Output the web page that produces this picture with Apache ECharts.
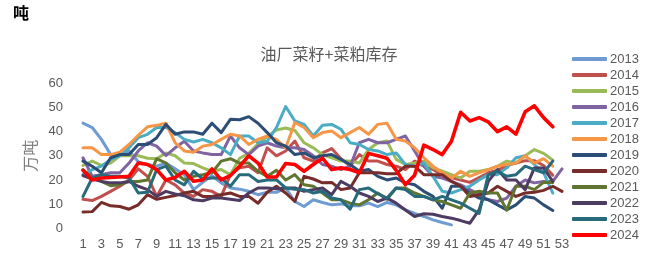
<!DOCTYPE html>
<html><head><meta charset="utf-8">
<script src="https://cdn.jsdelivr.net/npm/echarts@6/dist/echarts.min.js"></script>
<style>html,body{margin:0;padding:0;background:#fff}#c{width:668px;height:268px}</style>
</head><body><div id="c"></div>
<script>
var weeks = ['1','2','3','4','5','6','7','8','9','10','11','12','13','14','15','16','17','18','19','20','21','22','23','24','25','26','27','28','29','30','31','32','33','34','35','36','37','38','39','40','41','42','43','44','45','46','47','48','49','50','51','52','53'];
var years = ['2013','2014','2015','2016','2017','2018','2019','2020','2021','2022','2023','2024'];
var s2013 = [43.5,41.7,36.8,30.5,30.1,32,27.5,26.4,25.7,27,24.6,22.2,16,19,21.8,18.8,16.7,16.2,15.3,13.9,14.9,14.9,16.7,11.1,9,11.8,10.7,9.7,10.1,9.3,9.3,10.4,9,10.7,9.7,7.6,6.2,4.9,3.5,2.4,1.4];
var s2014 = [12,11.5,13.2,15.3,17.4,20,24.6,21.5,13.2,20,18,14.6,13.2,16,15.3,13.2,22.2,25,25.7,23,33.3,30,32,36.1,29.2,27.8,31.2,33,28.8,25.7,30.5,27.8,27.8,26.4,25.7,24.3,27.8,25.7,24.3,22,21,20,19,21,23,24,26,27,28,28,26,22];
var s2015 = [26,27.8,26,27,30,30,30,29,28.8,31.2,30,27,26.8,25,23.6,24.3,22.2,29,31,35,38,40.7,41.5,40.5,35.4,33.3,30.5,29.2,27.8,27.8,27,32.6,35.4,36.1,28.5,26.4,27,27.8,25,23.6,22.2,20.8,23.6,23.6,24.3,25.7,27.8,27,30,32.6,31,28.2];
var s2016 = [29.2,21.5,22.2,23,23,27,32,35.4,34,30.1,33.3,36,32,31.2,30.5,30.5,38.2,33.3,30.5,34,35.4,34,33.3,33.3,32.6,30,26.4,25.7,24.3,25.7,35.4,36.8,35.4,35.4,36.8,38.2,32,25.7,21.5,20.8,19.4,18,16,13.9,11.8,11.1,12.5,17.4,20,18.8,19.4,19.4,24.6];
var s2017 = [22.2,24.3,25.7,28.5,30,33.3,37.5,38.9,41.7,41.7,39.6,36.8,35.7,36.8,35.4,33.3,30.5,38.2,38.2,35.4,36,41.7,50.4,44.4,43,38.2,42.6,43,41,35.4,34.7,32.6,32,30.5,31.2,26.4,25.7,27,21.5,15.3,14.6,16,17.4,20,22.2,22.2,25,29.2,30,26.4,23,14.6];
var s2018 = [33.3,33.3,30.5,30.5,31.5,34.7,38.5,42,42.6,43.5,35.4,32,31.5,34,34.7,36.8,38.9,38.2,34.7,36.8,38.2,36.8,33.3,43.8,41.7,37.5,39.6,40.3,37.5,39.6,41.7,38.9,43,43.5,36.8,36.1,33.3,29.2,25.7,23,20.8,23.6,21.5,23,24.3,25.7,26.4,27,30,27,28.8,25.7];
var s2019 = [27.8,25.7,23,29.2,30.5,30.5,34.7,34.7,37.5,43,38.9,39.9,39.9,38.9,43.5,39.6,45.1,44.9,46.2,43.5,39.6,35.4,34,30.5,31.2,29.2,30,30.5,28.5,26.4,23.6,24.3,21.5,20,20.8,18.8,18,15.3,13.2,8.3,17.4,17.4,14.6,12.5,11.8,9.7,7.6,9.7,13.2,12.5,9.7,7.4];
var s2020 = [6.7,6.9,10.7,9.3,9,7.9,9.7,13.9,12,12.8,13.6,14.6,15.3,13.2,13.2,13.9,14.6,13.2,13.2,10.4,14.9,17.4,14.6,11.1,21.5,20.4,18.8,19,16,16.7,23,23,23,22.6,22.6,25.7,25.7,22.2,22.2,22.2,19.4,17.4,13.2,13.9,14.6,17.4,15.3,13.2,14.6,14.9,15.7,17.4,15.3];
var s2021 = [24.3,20.8,19.4,17.6,18,19.4,19.4,20,28.8,27,23,20,21.5,22.2,23,27.8,28.8,27,27,23.6,21.5,24,20,22.2,18,17.4,14.6,11.8,11.8,10.4,9.7,11.8,14.6,12,16.7,16.7,14.6,13.2,11.8,11.1,9.7,8.3,14.6,15.3,14.6,14.6,7.6,17.4,17.4,16,19,19];
var s2022 = [21.8,20.4,19.4,18.8,18.8,19.4,17.4,16,13.2,15.3,14.2,13.5,11.8,11.4,12.5,12.5,12,11.5,14.6,16.7,16.7,16.4,16.7,16.7,15.3,16,16.7,13.9,19.4,17.4,14.6,13.2,11.1,12.5,10.4,7.6,4.9,6,5.8,4.9,4.2,3.2,2.1,7.6,19.4,24.3,20,20,16,25,25,19.4];
var s2023 = [13.2,20.8,22.2,21.5,21.5,20.8,14.6,14.9,24.3,25.7,20,18,23.6,20.4,20.8,20.8,17.4,22.2,22.2,19.4,20,20,16.7,16.2,16,14.6,15.3,12.5,11.8,7.9,16,16.7,14.3,12.5,16.7,16,13.2,13.2,11.8,13.2,11.8,10.4,8.3,6.2,22.2,23.6,21.5,22.2,25.7,24.3,23,27.8];
var s2024 = [24,20,20.8,21,21.2,21.5,27,26.4,24.3,20,21,23.6,19.5,20,24.6,20,21.8,25.7,30,27,21.2,21.2,26.8,26.4,23.6,26.4,29,24.3,25,24.3,23,31,30,29,24,18,22,34.4,32.6,30.5,36,48,44.4,45.8,44,40,42,39,48.2,50.7,45.8,42];
var yTicks = [0,10,20,30,40,50,60];

var seriesData = [s2013,s2014,s2015,s2016,s2017,s2018,s2019,s2020,s2021,s2022,s2023,s2024];
var colors = ['#6E9BD1','#C0504D','#9BBB59','#8064A2','#4BACC6','#F79646','#2C4D75','#772C2A','#5F7530','#4D3B62','#276A7C','#FF0000'];
var chart = echarts.init(document.getElementById('c'), null, {renderer:'canvas'});
var series = years.map(function(y,i){
  return {name:y,type:'line',data:seriesData[i],showSymbol:false,symbol:'none',smooth:false,
    lineStyle:{color:colors[i],width:(i===11?3.6:3),cap:'round',join:'round'},itemStyle:{color:colors[i]},
    emphasis:{disabled:true},silent:true};
});
var font = '"Liberation Sans", Arial, sans-serif';
chart.setOption({
  animation:false,
  color:colors,
  grid:{left:83,right:106,top:83.3,bottom:39.7,containLabel:false},
  graphic:[
    {type:'text',left:13,top:5,style:{text:'吨',font:'bold 16px "Noto Sans CJK SC", sans-serif',fill:'#000'}},
    {type:'text',x:329,y:54,style:{text:'油厂菜籽+菜粕库存',font:'16px "Noto Sans CJK SC", sans-serif',fill:'#595959',align:'center',verticalAlign:'middle'}}
  ],
  legend:{orient:'vertical',left:567,top:46,itemWidth:35,itemHeight:4,itemGap:0,icon:'roundRect',
    data:years,selectedMode:false,
    textStyle:{color:'#595959',fontSize:13,fontFamily:font,lineHeight:16,padding:[0,0,0,-2]}},
  xAxis:{type:'category',data:weeks,boundaryGap:false,
    axisLine:{show:false},axisTick:{show:false},splitLine:{show:false},
    axisLabel:{interval:1,color:'#595959',fontSize:13,fontFamily:font,margin:10}},
  yAxis:{type:'value',min:yTicks[0],max:yTicks[yTicks.length-1],interval:10,
    name:'万吨',nameLocation:'middle',nameGap:40,nameRotate:90,
    nameTextStyle:{color:'#7f7f7f',fontSize:16,fontFamily:'"Noto Sans CJK SC", sans-serif'},
    axisLine:{show:false},axisTick:{show:false},splitLine:{show:false},
    axisLabel:{color:'#595959',fontSize:13,fontFamily:font,margin:20}},
  series:series
});
</script></body></html>
